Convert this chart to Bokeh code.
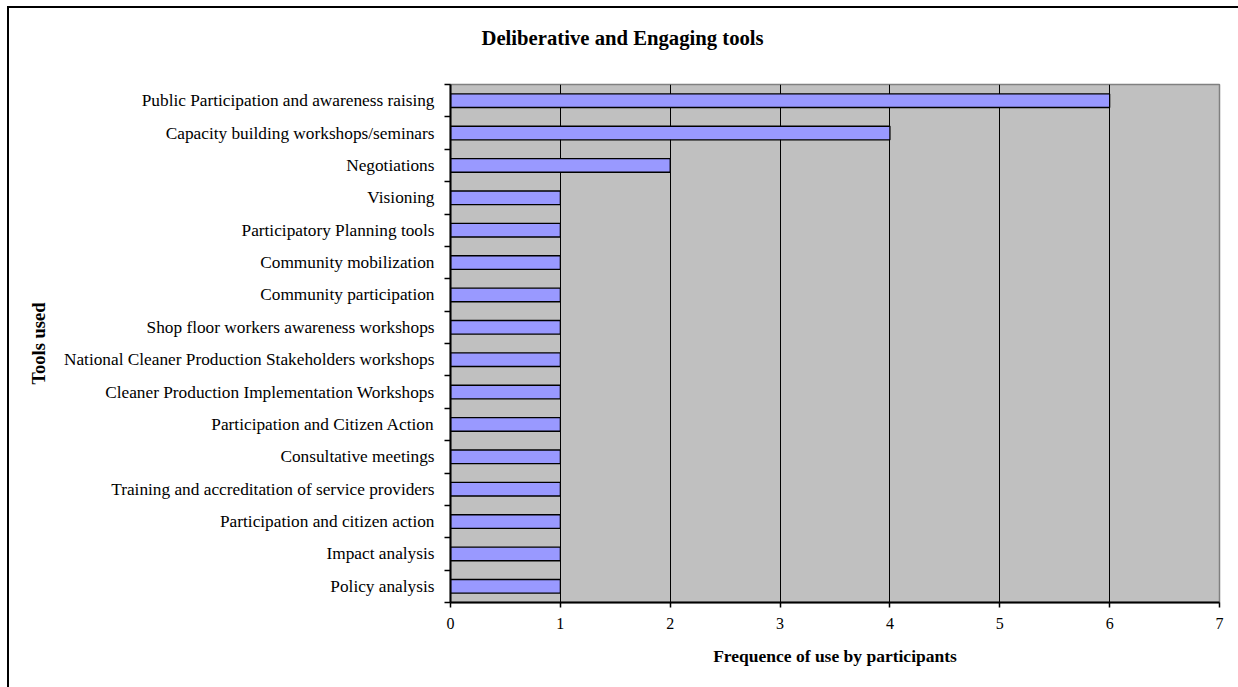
from bokeh.plotting import figure
from bokeh.models import ColumnDataSource, FixedTicker, Range1d
from bokeh.embed import file_html
from bokeh.resources import INLINE

# Tools and how many participants reported using each (top to bottom)
tools = [
    "Public Participation and awareness raising",
    "Capacity building workshops/seminars",
    "Negotiations",
    "Visioning",
    "Participatory Planning tools",
    "Community mobilization",
    "Community participation",
    "Shop floor workers awareness workshops",
    "National Cleaner Production Stakeholders workshops",
    "Cleaner Production Implementation Workshops",
    "Participation and Citizen Action",
    "Consultative meetings",
    "Training and accreditation of service providers",
    "Participation and citizen action",
    "Impact analysis",
    "Policy analysis",
]
frequency = [6, 4, 2, 1, 1, 1, 1, 1, 1, 1, 1, 1, 1, 1, 1, 1]
x_ticks = [0, 1, 2, 3, 4, 5, 6, 7]

FONT = "Liberation Serif"

n = len(tools)
centers = [n - i - 0.5 for i in range(n)]
boundaries = list(range(n + 1))

src = ColumnDataSource(dict(y=centers, right=frequency, tool=tools))

p = figure(
    width=1245, height=690,
    x_range=Range1d(0, 7), y_range=Range1d(0, n),
    output_backend="svg", toolbar_location=None,
    min_border_left=441, min_border_right=35,
    min_border_top=76, min_border_bottom=96,
    background_fill_color="#c0c0c0", border_fill_color="white",
)
p.styles = {"border-left": "2px solid black", "border-top": "2px solid black",
            "margin-left": "7px", "margin-top": "6px"}
p.outline_line_color = "#808080"
p.outline_line_width = 1.5

# the trailing empty line keeps a gap between the title and the plot area
p.title.text = "Deliberative and Engaging tools\n"
p.title.align = "left"
p.title.vertical_align = "top"
p.title.offset = 31
p.title.standoff = 23
p.title.text_font = FONT
p.title.text_font_size = "20.7px"
p.title.text_font_style = "bold"
p.title.text_color = "black"

p.hbar(y="y", right="right", left=0, height=0.42, source=src,
       fill_color="#9999ff", line_color="black", line_width=1.3)

# x axis
p.xaxis.ticker = FixedTicker(ticks=x_ticks)
p.xaxis.axis_label = "Frequence of use by participants"
p.xaxis.axis_label_text_font = FONT
p.xaxis.axis_label_text_font_size = "17.5px"
p.xaxis.axis_label_text_font_style = "bold"
p.xaxis.axis_label_text_color = "black"
p.xaxis.axis_label_standoff = 14
p.xaxis.major_label_text_font = FONT
p.xaxis.major_label_text_font_size = "16px"
p.xaxis.major_label_text_color = "black"
p.xaxis.major_label_standoff = 10
p.xaxis.major_tick_in = 0
p.xaxis.major_tick_out = 5
p.xaxis.minor_tick_line_color = None
p.xaxis.axis_line_width = 2
p.xaxis.major_tick_line_width = 1.5

# y axis: labels at category centres, ticks on category boundaries
p.yaxis.ticker = FixedTicker(ticks=centers, minor_ticks=boundaries)
p.yaxis.major_label_overrides = {c: t for c, t in zip(centers, tools)}
p.yaxis.major_tick_line_color = None
p.yaxis.minor_tick_in = 0
p.yaxis.minor_tick_out = 6
p.yaxis.minor_tick_line_width = 1.5
p.yaxis.axis_line_width = 2
p.yaxis.major_label_text_font = FONT
p.yaxis.major_label_text_font_size = "17.3px"
p.yaxis.major_label_text_color = "black"
p.yaxis.major_label_standoff = 10
p.yaxis.axis_label = "Tools used"
p.yaxis.axis_label_text_font = FONT
p.yaxis.axis_label_text_font_size = "18.5px"
p.yaxis.axis_label_text_font_style = "bold"
p.yaxis.axis_label_text_color = "black"
p.yaxis.axis_label_standoff = 12

p.xgrid.grid_line_color = "black"
p.xgrid.grid_line_width = 1
p.ygrid.grid_line_color = None

open("out.html", "w").write(file_html(p, INLINE))
